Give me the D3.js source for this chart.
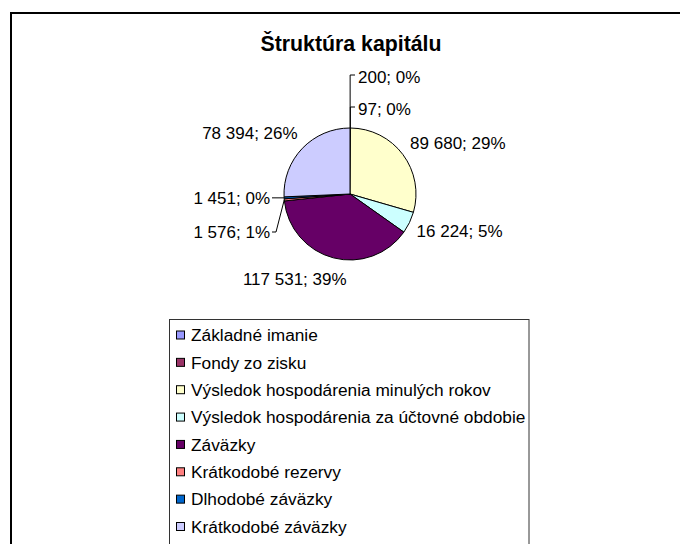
<!DOCTYPE html>
<html>
<head>
<meta charset="utf-8">
<script src="https://cdn.jsdelivr.net/npm/d3@7"></script>
<style>
  html, body { margin: 0; padding: 0; background: #fff; }
  svg { display: block; }
  text { font-family: "Liberation Sans", Arial, sans-serif; fill: #000; }
</style>
</head>
<body>
<svg id="chart" width="680" height="544"></svg>
<script>
// ---- data ----
const title = "Štruktúra kapitálu";
const categories = [
  "Základné imanie",
  "Fondy zo zisku",
  "Výsledok hospodárenia minulých rokov",
  "Výsledok hospodárenia za účtovné obdobie",
  "Záväzky",
  "Krátkodobé rezervy",
  "Dlhodobé záväzky",
  "Krátkodobé záväzky"
];
const values = [200, 97, 89680, 16224, 117531, 1576, 1451, 78394];
const colors = ["#9999FF", "#993366", "#FFFFCC", "#CCFFFF", "#660066", "#FF8080", "#0066CC", "#CCCCFF"];

// ---- layout ----
const W = 680, H = 544;
const cx = 350, cy = 194, R = 66, RL = 85;
const labelLayout = [
  {mode: "leader", lx: 8,   ly: -117, anchor: "start", bend: "up"},
  {mode: "leader", lx: 8,   ly: -85,  anchor: "start", bend: "up"},
  {mode: "arc", dx: -8,  dy: 0,  anchor: "start"},
  {mode: "arc", dx: -10, dy: 0,  anchor: "start"},
  {mode: "arc", dx: 18,  dy: 3,  anchor: "end"},
  {mode: "leader", lx: -80, ly: 38,   anchor: "end", bend: "side"},
  {mode: "leader", lx: -80, ly: 4,    anchor: "end", bend: "flat"},
  {mode: "arc", dx: 9,   dy: -2, anchor: "end"}
];

const svg = d3.select("#chart");

svg.append("rect")
  .attr("x", 11).attr("y", 13)
  .attr("width", W).attr("height", H)
  .attr("fill", "#fff").attr("stroke", "#000").attr("stroke-width", 2);

svg.append("text")
  .attr("x", 351).attr("y", 51)
  .attr("text-anchor", "middle")
  .attr("font-size", 21.3).attr("font-weight", "bold")
  .text(title);

const total = d3.sum(values);
const pie = d3.pie().sort(null).value(d => d)(values);
const arc = d3.arc().innerRadius(0).outerRadius(R);

const g = svg.append("g").attr("transform", `translate(${cx},${cy})`);
g.selectAll("path.slice")
  .data(pie)
  .join("path")
  .attr("class", "slice")
  .attr("d", arc)
  .attr("fill", (d, i) => colors[i])
  .attr("stroke", "#000")
  .attr("stroke-width", 1)
  .attr("stroke-linejoin", "round");

const fmt = v => d3.format(",")(v).replace(/,/g, " ");
const pct = v => Math.round(v / total * 100) + "%";

pie.forEach((d, i) => {
  const a = (d.startAngle + d.endAngle) / 2;
  const L = labelLayout[i];
  const txt = fmt(values[i]) + "; " + pct(values[i]);
  let x, y;
  if (L.mode === "arc") {
    x = Math.sin(a) * RL + L.dx;
    y = -Math.cos(a) * RL + L.dy;
  } else {
    x = L.lx; y = L.ly;
    const ex = Math.sin(a) * R, ey = -Math.cos(a) * R;
    let pts;
    if (L.bend === "up") {
      pts = [[ex, ey], [ex, y - 2], [x - 3, y - 2]];
    } else if (L.bend === "side") {
      pts = [[x + 2, y], [x + 6, y], [ex, ey]];
    } else {
      pts = [[x + 2, ey], [ex, ey]];
    }
    g.append("path")
      .attr("d", d3.line()(pts))
      .attr("fill", "none")
      .attr("stroke", "#000")
      .attr("stroke-width", 1);
  }
  g.append("text")
    .attr("x", x).attr("y", y)
    .attr("dy", "0.36em")
    .attr("text-anchor", L.anchor)
    .attr("font-size", 17)
    .text(txt);
});

const lg = svg.append("g");
lg.append("rect")
  .attr("x", 169.5).attr("y", 319.5)
  .attr("width", 359.5).attr("height", 260)
  .attr("fill", "#fff").attr("stroke", "#333").attr("stroke-width", 1);

const ly = d3.scalePoint().domain(d3.range(categories.length)).range([335, 526.5]);
categories.forEach((c, i) => {
  const yy = ly(i);
  lg.append("rect")
    .attr("x", 176.5).attr("y", yy - 4)
    .attr("width", 8).attr("height", 8)
    .attr("fill", colors[i]).attr("stroke", "#000").attr("stroke-width", 1);
  lg.append("text")
    .attr("x", 191).attr("y", yy)
    .attr("dy", "0.36em")
    .attr("font-size", 17.3)
    .text(c);
});
</script>
</body>
</html>
